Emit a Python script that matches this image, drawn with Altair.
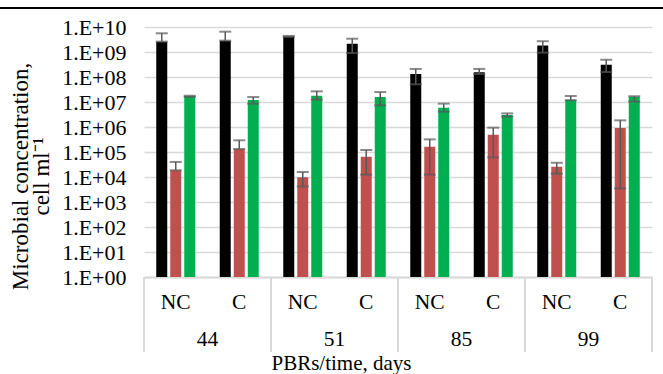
import altair as alt
import pandas as pd

# ---- data ----
days = ["44", "51", "85", "99"]
treatments = ["NC", "C"]
series = ["Series 1", "Series 2", "Series 3"]
colors = ["#000000", "#C0504D", "#00B050"]

# slot order: 44 NC, 44 C, 51 NC, 51 C, 85 NC, 85 C, 99 NC, 99 C
s1_val = [2.6e9, 2.85e9, 4.2e9, 2.15e9, 1.32e8, 1.54e8, 1.8e9, 3.1e8]
s1_hi = [5.6e9, 6.5e9, 4.4e9, 3.4e9, 2.1e8, 2.1e8, 2.7e9, 4.9e8]
s1_lo = [2.6e9, 2.85e9, 4.0e9, 9.1e8, 5.1e7, 1.32e8, 9.4e8, 1.58e8]

s2_val = [1.85e4, 1.32e5, 9.7e3, 6.5e4, 1.63e5, 4.9e5, 2.6e4, 9.1e5]
s2_hi = [4.0e4, 2.93e5, 1.58e4, 1.2e5, 3.2e5, 9.4e5, 3.7e4, 1.85e6]
s2_lo = [1.85e4, 1.32e5, 4.2e3, 1.24e4, 1.24e4, 6.1e4, 1.36e4, 3.5e3]

s3_val = [1.69e7, 1.2e7, 1.79e7, 1.58e7, 5.9e6, 3.0e6, 1.24e7, 1.63e7]
s3_hi = [1.78e7, 1.58e7, 2.67e7, 2.5e7, 8.6e6, 3.5e6, 1.74e7, 1.7e7]
s3_lo = [1.6e7, 8.6e6, 1.24e7, 7.4e6, 4.1e6, 2.6e6, 1.17e7, 1.03e7]

y_ticks = [10 ** i for i in range(11)]

# ---- build tables ----
slots = [f"{d}|{t}" for d in days for t in treatments]
rows = []
for name, vals, his, los in zip(series, [s1_val, s2_val, s3_val],
                                 [s1_hi, s2_hi, s3_hi], [s1_lo, s2_lo, s3_lo]):
    for k, slot in enumerate(slots):
        rows.append(dict(slot=slot, series=name, value=vals[k], hi=his[k],
                         lo=los[k], base=1))
df = pd.DataFrame(rows)

grp_df = pd.DataFrame({"day": days, "pos": [i + 0.5 for i in range(len(days))]})
bound_df = pd.DataFrame({"b": list(range(len(days) + 1))})

FONT = "Liberation Serif"
yscale = alt.Scale(type="log", domain=[1, 1e10], nice=False)

x_enc = alt.X(
    "slot:N", sort=slots,
    scale=alt.Scale(paddingInner=0, paddingOuter=0),
    axis=alt.Axis(
        labelExpr="split(datum.label, '|')[1]", labelAngle=0, ticks=False,
        domainColor="#d9d9d9", domainWidth=2, grid=False,
        labelPadding=25, labelBaseline="middle", labelFont=FONT,
        labelFontSize=21.5, labelColor="black",
        title="PBRs/time, days", titleFont=FONT, titleFontSize=21,
        titleFontWeight="normal", titleColor="black",
        titleX=197, titleY=92, titleAlign="center", titleBaseline="alphabetic",
    ),
)
xoff = alt.XOffset("series:N", sort=series,
                   scale=alt.Scale(paddingInner=3 / 14, paddingOuter=0.875))

y_axis = alt.Axis(
    values=y_ticks,
    labelExpr="'1.E+' + (round(log(datum.value)/LN10) < 10 ? '0' : '') + round(log(datum.value)/LN10)",
    grid=True, gridColor="#d9d9d9", gridWidth=1.5, domain=False, ticks=False,
    labelPadding=18, labelFont=FONT, labelFontSize=22, labelColor="black",
    title=["Microbial concentration,", "cell ml\u207b\u00b9"], titleFont=FONT,
    titleFontSize=23, titleLineHeight=21, titleFontWeight="normal",
    titleColor="black",
    titleX=-124, titleY=149, titleAngle=270, titleAlign="center",
    titleBaseline="middle",
)

bars = alt.Chart(df).mark_bar().encode(
    x=x_enc, xOffset=xoff,
    y=alt.Y("value:Q", scale=yscale, axis=y_axis),
    y2="base:Q",
    color=alt.Color("series:N", sort=series,
                    scale=alt.Scale(domain=series, range=colors), legend=None),
)
err = alt.Chart(df).mark_rule(color="#595959", strokeWidth=1.5).encode(
    x=x_enc, xOffset=xoff, y=alt.Y("lo:Q", scale=yscale), y2="hi:Q")
cap_hi = alt.Chart(df).mark_tick(color="#595959", thickness=2, size=12).encode(
    x=x_enc, xOffset=xoff, y=alt.Y("hi:Q", scale=yscale))
cap_lo = alt.Chart(df).mark_tick(color="#595959", thickness=2, size=12).encode(
    x=x_enc, xOffset=xoff, y=alt.Y("lo:Q", scale=yscale))

main = alt.layer(bars, err, cap_hi, cap_lo)

gx = alt.Scale(domain=[0, len(days)], nice=False, zero=False)
dividers = alt.Chart(bound_df).mark_rule(color="#d9d9d9", strokeWidth=2).encode(
    x=alt.X("b:Q", scale=gx, axis=None),
    y=alt.value(250), y2=alt.value(325))
glabels = alt.Chart(grp_df).mark_text(
    font=FONT, fontSize=21.5, color="black", baseline="middle").encode(
    x=alt.X("pos:Q", scale=gx, axis=None), y=alt.value(313), text="day:N")
topline = alt.Chart(bound_df.head(1)).mark_rule(color="black", strokeWidth=2).encode(
    x=alt.value(-144), x2=alt.value(519), y=alt.value(-19))

groups = alt.layer(dividers, glabels, topline)

chart = alt.layer(main, groups).resolve_scale(x="independent").properties(
    width=508, height=250,
    autosize=alt.AutoSizeParams(type="none"),
    padding={"left": 144, "top": 27, "right": 11, "bottom": 97},
).configure_view(stroke=None)

chart.save("out.html", embed_options={"renderer": "svg", "actions": False})
